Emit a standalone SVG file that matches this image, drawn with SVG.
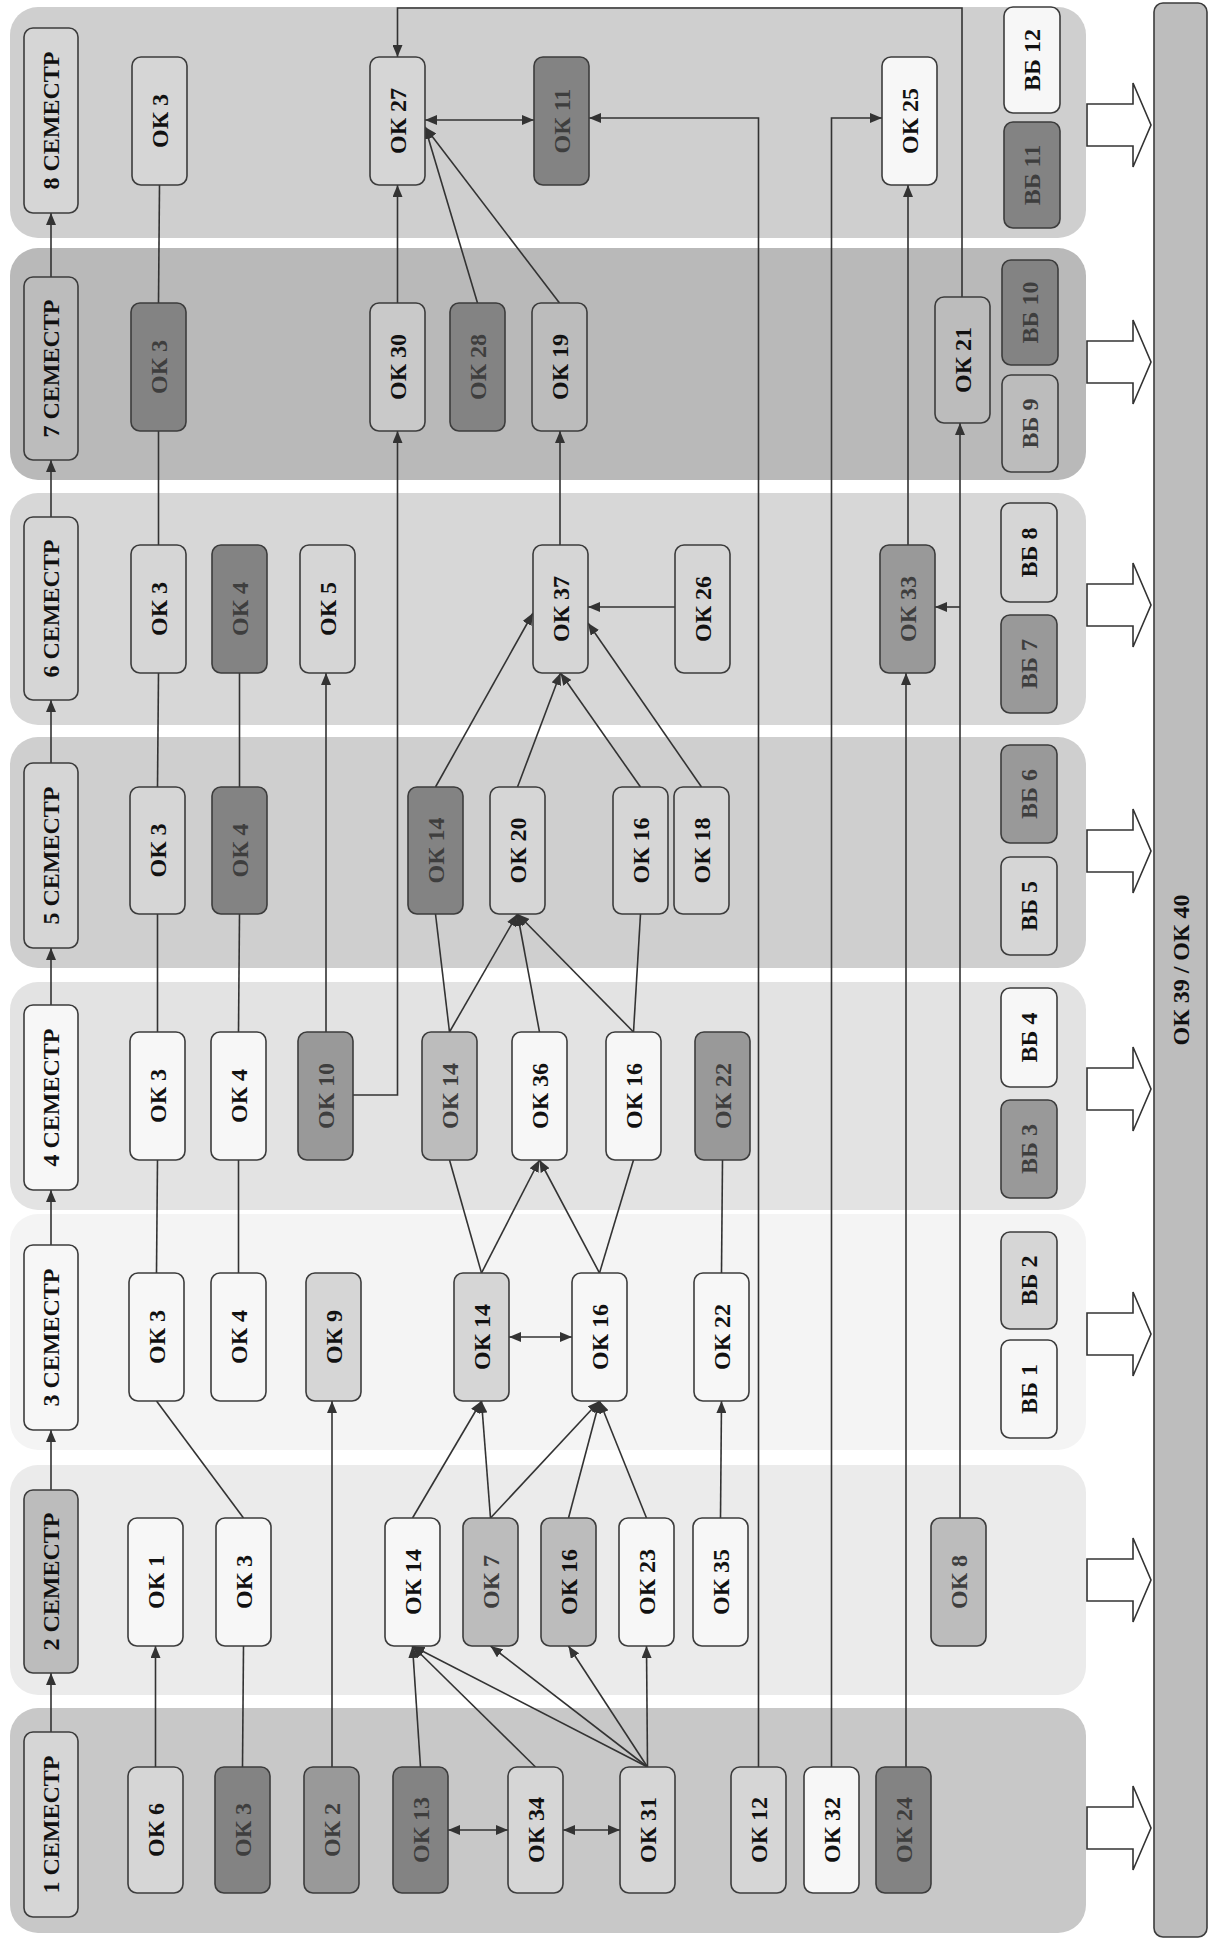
<svg xmlns="http://www.w3.org/2000/svg" width="1214" height="1940" viewBox="0 0 1214 1940">
<style>
.bg{stroke:none}
.n{stroke:#3c3c3c;stroke-width:1.6}
.w{fill:#f7f7f7}.l{fill:#d6d6d6}.m{fill:#bcbcbc}.d{fill:#999999}.k{fill:#838383}
.t{font-family:"Liberation Serif","Times New Roman",serif;font-weight:bold;font-size:24px;fill:#111;text-anchor:middle;dominant-baseline:central}
.tk{fill:#3e3e3e}
.e{fill:none;stroke:#333;stroke-width:1.6}
.a{marker-end:url(#ah)}
.b{marker-end:url(#ah);marker-start:url(#ah)}
.ha{fill:#fff;stroke:#333;stroke-width:1.6}
</style>
<defs>
<marker id="ah" viewBox="0 0 12 10" markerWidth="12" markerHeight="10" refX="12" refY="5" orient="auto-start-reverse" markerUnits="userSpaceOnUse"><path d="M0,0 L12,5 L0,10 z" fill="#333"/></marker>
</defs>
<g id="bands">
<rect class="bg" x="10" y="7" width="1076" height="231" rx="28" fill="#cfcfcf"/>
<rect class="bg" x="10" y="248" width="1076" height="232" rx="28" fill="#b9b9b9"/>
<rect class="bg" x="10" y="493" width="1076" height="232" rx="28" fill="#d7d7d7"/>
<rect class="bg" x="10" y="737" width="1076" height="231" rx="28" fill="#cfcfcf"/>
<rect class="bg" x="10" y="982" width="1076" height="228" rx="28" fill="#e3e3e3"/>
<rect class="bg" x="10" y="1214" width="1076" height="236" rx="28" fill="#f4f4f4"/>
<rect class="bg" x="10" y="1465" width="1076" height="230" rx="28" fill="#ebebeb"/>
<rect class="bg" x="10" y="1708" width="1076" height="225" rx="28" fill="#c8c8c8"/>
</g>
<g id="outcome-arrows">
<path class="ha" d="M1087,104 H1133 V83 L1151,125 L1133,167 V146 H1087 Z"/>
<path class="ha" d="M1087,341 H1133 V320 L1151,362 L1133,404 V383 H1087 Z"/>
<path class="ha" d="M1087,584 H1133 V563 L1151,605 L1133,647 V626 H1087 Z"/>
<path class="ha" d="M1087,830 H1133 V809 L1151,851 L1133,893 V872 H1087 Z"/>
<path class="ha" d="M1087,1068 H1133 V1047 L1151,1089 L1133,1131 V1110 H1087 Z"/>
<path class="ha" d="M1087,1313 H1133 V1292 L1151,1334 L1133,1376 V1355 H1087 Z"/>
<path class="ha" d="M1087,1559 H1133 V1538 L1151,1580 L1133,1622 V1601 H1087 Z"/>
<path class="ha" d="M1087,1807 H1133 V1786 L1151,1828 L1133,1870 V1849 H1087 Z"/>
</g>
<g id="connectors">
<path class="e a" d="M51,1732 V1673"/>
<path class="e a" d="M51,1490 V1430"/>
<path class="e a" d="M51,1245 V1190"/>
<path class="e a" d="M51,1005 V948"/>
<path class="e a" d="M51,763 V700"/>
<path class="e a" d="M51,517 V460"/>
<path class="e a" d="M51,277 V213"/>
<path class="e a" d="M155.5,1767 V1646"/>
<path class="e" d="M242.5,1767 L243.5,1646"/>
<path class="e" d="M243.5,1518 L156.5,1401"/>
<path class="e" d="M156.5,1273 L157.5,1160"/>
<path class="e" d="M157.5,1032 L157.5,914"/>
<path class="e" d="M157.5,787 L158.5,673"/>
<path class="e" d="M158.5,545 L158.5,431"/>
<path class="e" d="M158.5,303 L159.5,185"/>
<path class="e" d="M238.5,1273 L238.5,1160"/>
<path class="e" d="M238.5,1032 L239.5,914"/>
<path class="e" d="M239.5,787 L239.5,673"/>
<path class="e a" d="M332,1767 V1401"/>
<path class="e a" d="M326,1032 V673"/>
<path class="e a" d="M353,1095 H397.5 V431"/>
<path class="e a" d="M420.5,1767 L412.5,1646"/>
<path class="e a" d="M535.5,1767 L412.5,1646"/>
<path class="e a" d="M647.5,1767 L412.5,1646"/>
<path class="e a" d="M647.5,1767 L490.5,1646"/>
<path class="e a" d="M647.5,1767 L568.5,1646"/>
<path class="e a" d="M647.5,1767 L646.5,1646"/>
<path class="e b" d="M448,1830 H508"/>
<path class="e b" d="M563,1830 H620"/>
<path class="e a" d="M412.5,1518 L481.5,1401"/>
<path class="e a" d="M490.5,1518 L481.5,1401"/>
<path class="e a" d="M490.5,1518 L599.5,1401"/>
<path class="e a" d="M568.5,1518 L599.5,1401"/>
<path class="e a" d="M646.5,1518 L599.5,1401"/>
<path class="e a" d="M720.5,1518 L721.5,1401"/>
<path class="e b" d="M509,1337 H572"/>
<path class="e" d="M481.5,1273 L449.5,1160"/>
<path class="e a" d="M481.5,1273 L539.5,1160"/>
<path class="e a" d="M599.5,1273 L539.5,1160"/>
<path class="e" d="M599.5,1273 L633.5,1160"/>
<path class="e" d="M721.5,1273 L722.5,1160"/>
<path class="e" d="M449.5,1032 L435.5,914"/>
<path class="e a" d="M449.5,1032 L517.5,914"/>
<path class="e a" d="M539.5,1032 L517.5,914"/>
<path class="e a" d="M633.5,1032 L517.5,914"/>
<path class="e" d="M633.5,1032 L640.5,914"/>
<path class="e a" d="M435.5,787 L533,613"/>
<path class="e a" d="M517.5,787 L560.5,673"/>
<path class="e a" d="M640.5,787 L560.5,673"/>
<path class="e a" d="M701.5,787 L588,623"/>
<path class="e a" d="M675,607 H588"/>
<path class="e a" d="M560,545 V431"/>
<path class="e a" d="M397.5,303 V185"/>
<path class="e a" d="M477.5,303 L425,127"/>
<path class="e a" d="M559.5,303 L425,127"/>
<path class="e b" d="M425,120 H534"/>
<path class="e a" d="M758.5,1767 V118 H589"/>
<path class="e a" d="M831.5,1767 V118 H882"/>
<path class="e a" d="M906,1767 V673"/>
<path class="e a" d="M908,545 V185"/>
<path class="e a" d="M960,1518 V423"/>
<path class="e a" d="M960,607 H935"/>
<path class="e a" d="M962,297 V8 H397.5 V57"/>
</g>
<g id="sem1"><rect class="n l" x="24" y="1732" width="54" height="185" rx="9"/><text class="t" transform="translate(51,1824.5) rotate(-90)">1 СЕМЕСТР</text></g>
<g id="sem2"><rect class="n m" x="24" y="1490" width="54" height="183" rx="9"/><text class="t" transform="translate(51,1581.5) rotate(-90)">2 СЕМЕСТР</text></g>
<g id="sem3"><rect class="n w" x="24" y="1245" width="54" height="185" rx="9"/><text class="t" transform="translate(51,1337.5) rotate(-90)">3 СЕМЕСТР</text></g>
<g id="sem4"><rect class="n w" x="24" y="1005" width="54" height="185" rx="9"/><text class="t" transform="translate(51,1097.5) rotate(-90)">4 СЕМЕСТР</text></g>
<g id="sem5"><rect class="n l" x="24" y="763" width="54" height="185" rx="9"/><text class="t" transform="translate(51,855.5) rotate(-90)">5 СЕМЕСТР</text></g>
<g id="sem6"><rect class="n l" x="24" y="517" width="54" height="183" rx="9"/><text class="t" transform="translate(51,608.5) rotate(-90)">6 СЕМЕСТР</text></g>
<g id="sem7"><rect class="n m" x="24" y="277" width="54" height="183" rx="9"/><text class="t" transform="translate(51,368.5) rotate(-90)">7 СЕМЕСТР</text></g>
<g id="sem8"><rect class="n l" x="24" y="28" width="54" height="185" rx="9"/><text class="t" transform="translate(51,120.5) rotate(-90)">8 СЕМЕСТР</text></g>

<g id="s1-ok6"><rect class="n l" x="128" y="1767" width="55" height="126" rx="9"/><text class="t" transform="translate(155.5,1830) rotate(-90)">ОК 6</text></g>
<g id="s1-ok3"><rect class="n k" x="215" y="1767" width="55" height="126" rx="9"/><text class="t tk" transform="translate(242.5,1830) rotate(-90)">ОК 3</text></g>
<g id="s1-ok2"><rect class="n d" x="304" y="1767" width="55" height="126" rx="9"/><text class="t tk" transform="translate(331.5,1830) rotate(-90)">ОК 2</text></g>
<g id="s1-ok13"><rect class="n k" x="393" y="1767" width="55" height="126" rx="9"/><text class="t tk" transform="translate(420.5,1830) rotate(-90)">ОК 13</text></g>
<g id="s1-ok34"><rect class="n l" x="508" y="1767" width="55" height="126" rx="9"/><text class="t" transform="translate(535.5,1830) rotate(-90)">ОК 34</text></g>
<g id="s1-ok31"><rect class="n l" x="620" y="1767" width="55" height="126" rx="9"/><text class="t" transform="translate(647.5,1830) rotate(-90)">ОК 31</text></g>
<g id="s1-ok12"><rect class="n l" x="731" y="1767" width="55" height="126" rx="9"/><text class="t" transform="translate(758.5,1830) rotate(-90)">ОК 12</text></g>
<g id="s1-ok32"><rect class="n w" x="804" y="1767" width="55" height="126" rx="9"/><text class="t" transform="translate(831.5,1830) rotate(-90)">ОК 32</text></g>
<g id="s1-ok24"><rect class="n k" x="876" y="1767" width="55" height="126" rx="9"/><text class="t tk" transform="translate(903.5,1830) rotate(-90)">ОК 24</text></g>

<g id="s2-ok1"><rect class="n w" x="128" y="1518" width="55" height="128" rx="9"/><text class="t" transform="translate(155.5,1582) rotate(-90)">ОК 1</text></g>
<g id="s2-ok3"><rect class="n w" x="216" y="1518" width="55" height="128" rx="9"/><text class="t" transform="translate(243.5,1582) rotate(-90)">ОК 3</text></g>
<g id="s2-ok14"><rect class="n w" x="385" y="1518" width="55" height="128" rx="9"/><text class="t" transform="translate(412.5,1582) rotate(-90)">ОК 14</text></g>
<g id="s2-ok7"><rect class="n m" x="463" y="1518" width="55" height="128" rx="9"/><text class="t tk" transform="translate(490.5,1582) rotate(-90)">ОК 7</text></g>
<g id="s2-ok16"><rect class="n m" x="541" y="1518" width="55" height="128" rx="9"/><text class="t" transform="translate(568.5,1582) rotate(-90)">ОК 16</text></g>
<g id="s2-ok23"><rect class="n w" x="619" y="1518" width="55" height="128" rx="9"/><text class="t" transform="translate(646.5,1582) rotate(-90)">ОК 23</text></g>
<g id="s2-ok35"><rect class="n w" x="693" y="1518" width="55" height="128" rx="9"/><text class="t" transform="translate(720.5,1582) rotate(-90)">ОК 35</text></g>
<g id="s2-ok8"><rect class="n m" x="931" y="1518" width="55" height="128" rx="9"/><text class="t tk" transform="translate(958.5,1582) rotate(-90)">ОК 8</text></g>

<g id="s3-ok3"><rect class="n w" x="129" y="1273" width="55" height="128" rx="9"/><text class="t" transform="translate(156.5,1337) rotate(-90)">ОК 3</text></g>
<g id="s3-ok4"><rect class="n w" x="211" y="1273" width="55" height="128" rx="9"/><text class="t" transform="translate(238.5,1337) rotate(-90)">ОК 4</text></g>
<g id="s3-ok9"><rect class="n l" x="306" y="1273" width="55" height="128" rx="9"/><text class="t" transform="translate(333.5,1337) rotate(-90)">ОК 9</text></g>
<g id="s3-ok14"><rect class="n l" x="454" y="1273" width="55" height="128" rx="9"/><text class="t" transform="translate(481.5,1337) rotate(-90)">ОК 14</text></g>
<g id="s3-ok16"><rect class="n w" x="572" y="1273" width="55" height="128" rx="9"/><text class="t" transform="translate(599.5,1337) rotate(-90)">ОК 16</text></g>
<g id="s3-ok22"><rect class="n w" x="694" y="1273" width="55" height="128" rx="9"/><text class="t" transform="translate(721.5,1337) rotate(-90)">ОК 22</text></g>
<g id="s3-vb1"><rect class="n w" x="1001" y="1340" width="56" height="98" rx="9"/><text class="t" transform="translate(1029,1389) rotate(-90)">ВБ 1</text></g>
<g id="s3-vb2"><rect class="n l" x="1001" y="1232" width="56" height="97" rx="9"/><text class="t" transform="translate(1029,1280.5) rotate(-90)">ВБ 2</text></g>

<g id="s4-ok3"><rect class="n w" x="130" y="1032" width="55" height="128" rx="9"/><text class="t" transform="translate(157.5,1096) rotate(-90)">ОК 3</text></g>
<g id="s4-ok4"><rect class="n w" x="211" y="1032" width="55" height="128" rx="9"/><text class="t" transform="translate(238.5,1096) rotate(-90)">ОК 4</text></g>
<g id="s4-ok10"><rect class="n d" x="298" y="1032" width="55" height="128" rx="9"/><text class="t tk" transform="translate(325.5,1096) rotate(-90)">ОК 10</text></g>
<g id="s4-ok14"><rect class="n m" x="422" y="1032" width="55" height="128" rx="9"/><text class="t tk" transform="translate(449.5,1096) rotate(-90)">ОК 14</text></g>
<g id="s4-ok36"><rect class="n w" x="512" y="1032" width="55" height="128" rx="9"/><text class="t" transform="translate(539.5,1096) rotate(-90)">ОК 36</text></g>
<g id="s4-ok16"><rect class="n w" x="606" y="1032" width="55" height="128" rx="9"/><text class="t" transform="translate(633.5,1096) rotate(-90)">ОК 16</text></g>
<g id="s4-ok22"><rect class="n d" x="695" y="1032" width="55" height="128" rx="9"/><text class="t tk" transform="translate(722.5,1096) rotate(-90)">ОК 22</text></g>
<g id="s4-vb4"><rect class="n w" x="1001" y="988" width="56" height="99" rx="9"/><text class="t" transform="translate(1029,1037.5) rotate(-90)">ВБ 4</text></g>
<g id="s4-vb3"><rect class="n d" x="1001" y="1100" width="56" height="98" rx="9"/><text class="t tk" transform="translate(1029,1149) rotate(-90)">ВБ 3</text></g>

<g id="s5-ok3"><rect class="n l" x="130" y="787" width="55" height="127" rx="9"/><text class="t" transform="translate(157.5,850.5) rotate(-90)">ОК 3</text></g>
<g id="s5-ok4"><rect class="n k" x="212" y="787" width="55" height="127" rx="9"/><text class="t tk" transform="translate(239.5,850.5) rotate(-90)">ОК 4</text></g>
<g id="s5-ok14"><rect class="n k" x="408" y="787" width="55" height="127" rx="9"/><text class="t tk" transform="translate(435.5,850.5) rotate(-90)">ОК 14</text></g>
<g id="s5-ok20"><rect class="n l" x="490" y="787" width="55" height="127" rx="9"/><text class="t" transform="translate(517.5,850.5) rotate(-90)">ОК 20</text></g>
<g id="s5-ok16"><rect class="n l" x="613" y="787" width="55" height="127" rx="9"/><text class="t" transform="translate(640.5,850.5) rotate(-90)">ОК 16</text></g>
<g id="s5-ok18"><rect class="n l" x="674" y="787" width="55" height="127" rx="9"/><text class="t" transform="translate(701.5,850.5) rotate(-90)">ОК 18</text></g>
<g id="s5-vb6"><rect class="n d" x="1001" y="745" width="56" height="98" rx="9"/><text class="t tk" transform="translate(1029,794) rotate(-90)">ВБ 6</text></g>
<g id="s5-vb5"><rect class="n l" x="1001" y="857" width="56" height="98" rx="9"/><text class="t" transform="translate(1029,906) rotate(-90)">ВБ 5</text></g>

<g id="s6-ok3"><rect class="n l" x="131" y="545" width="55" height="128" rx="9"/><text class="t" transform="translate(158.5,609) rotate(-90)">ОК 3</text></g>
<g id="s6-ok4"><rect class="n k" x="212" y="545" width="55" height="128" rx="9"/><text class="t tk" transform="translate(239.5,609) rotate(-90)">ОК 4</text></g>
<g id="s6-ok5"><rect class="n l" x="300" y="545" width="55" height="128" rx="9"/><text class="t" transform="translate(327.5,609) rotate(-90)">ОК 5</text></g>
<g id="s6-ok37"><rect class="n l" x="533" y="545" width="55" height="128" rx="9"/><text class="t" transform="translate(560.5,609) rotate(-90)">ОК 37</text></g>
<g id="s6-ok26"><rect class="n l" x="675" y="545" width="55" height="128" rx="9"/><text class="t" transform="translate(702.5,609) rotate(-90)">ОК 26</text></g>
<g id="s6-ok33"><rect class="n d" x="880" y="545" width="55" height="128" rx="9"/><text class="t tk" transform="translate(907.5,609) rotate(-90)">ОК 33</text></g>
<g id="s6-vb8"><rect class="n l" x="1001" y="503" width="56" height="99" rx="9"/><text class="t" transform="translate(1029,552.5) rotate(-90)">ВБ 8</text></g>
<g id="s6-vb7"><rect class="n d" x="1001" y="615" width="56" height="98" rx="9"/><text class="t tk" transform="translate(1029,664) rotate(-90)">ВБ 7</text></g>

<g id="s7-ok3"><rect class="n k" x="131" y="303" width="55" height="128" rx="9"/><text class="t tk" transform="translate(158.5,367) rotate(-90)">ОК 3</text></g>
<g id="s7-ok30"><rect class="n l" x="370" y="303" width="55" height="128" rx="9" style="fill:#c9c9c9"/><text class="t" transform="translate(397.5,367) rotate(-90)">ОК 30</text></g>
<g id="s7-ok28"><rect class="n k" x="450" y="303" width="55" height="128" rx="9"/><text class="t tk" transform="translate(477.5,367) rotate(-90)">ОК 28</text></g>
<g id="s7-ok19"><rect class="n m" x="532" y="303" width="55" height="128" rx="9"/><text class="t" transform="translate(559.5,367) rotate(-90)">ОК 19</text></g>
<g id="s7-ok21"><rect class="n m" x="935" y="297" width="55" height="126" rx="9"/><text class="t" transform="translate(962.5,360) rotate(-90)">ОК 21</text></g>
<g id="s7-vb10"><rect class="n k" x="1002" y="260" width="56" height="105" rx="9"/><text class="t tk" transform="translate(1030,312.5) rotate(-90)">ВБ 10</text></g>
<g id="s7-vb9"><rect class="n m" x="1002" y="375" width="56" height="97" rx="9"/><text class="t tk" transform="translate(1030,423.5) rotate(-90)">ВБ 9</text></g>

<g id="s8-ok3"><rect class="n l" x="132" y="57" width="55" height="128" rx="9"/><text class="t" transform="translate(159.5,121) rotate(-90)">ОК 3</text></g>
<g id="s8-ok27"><rect class="n l" x="370" y="57" width="55" height="128" rx="9"/><text class="t" transform="translate(397.5,121) rotate(-90)">ОК 27</text></g>
<g id="s8-ok11"><rect class="n k" x="534" y="57" width="55" height="128" rx="9"/><text class="t tk" transform="translate(561.5,121) rotate(-90)">ОК 11</text></g>
<g id="s8-ok25"><rect class="n w" x="882" y="57" width="55" height="128" rx="9"/><text class="t" transform="translate(909.5,121) rotate(-90)">ОК 25</text></g>
<g id="s8-vb12"><rect class="n w" x="1004" y="7" width="56" height="106" rx="9"/><text class="t" transform="translate(1032,60) rotate(-90)">ВБ 12</text></g>
<g id="s8-vb11"><rect class="n k" x="1004" y="122" width="56" height="106" rx="9"/><text class="t tk" transform="translate(1032,175) rotate(-90)">ВБ 11</text></g>

<g id="ok39-40"><rect class="n" x="1154" y="3" width="53" height="1934" rx="9" fill="#bdbdbd"/><text class="t" transform="translate(1180.5,970) rotate(-90)">ОК 39 / ОК 40</text></g>
</svg>
